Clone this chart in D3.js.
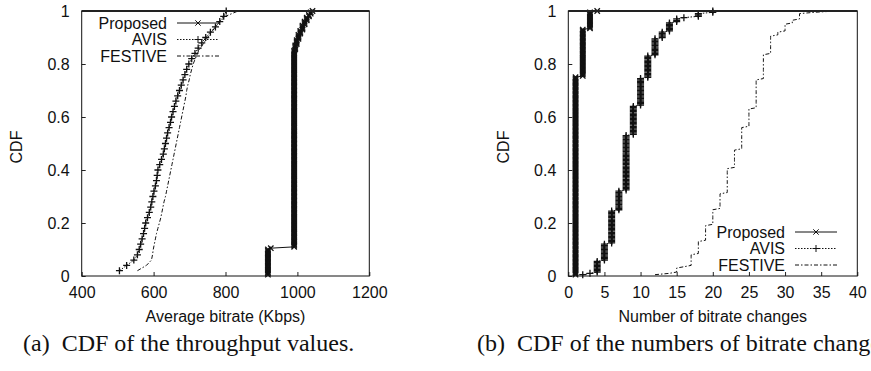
<!DOCTYPE html>
<html>
<head>
<meta charset="utf-8">
<script src="https://cdn.jsdelivr.net/npm/d3@7"></script>
<style>
  html, body { margin: 0; padding: 0; background: #fff; }
  svg { display: block; }
  .tick text, .lbl { font-family: "Liberation Sans", Arial, sans-serif; font-size: 16px; fill: #111; }
  .cap { font-family: "Liberation Serif", "Times New Roman", serif; font-size: 24px; fill: #111; }
</style>
</head>
<body>
<svg id="chart" width="871" height="371"></svg>
<script>
// Panel (a): average bitrate per run (Kbps). Proposed is given as value/count pairs.
const rateProposedVals = [918, 926, 991, 994, 998, 1003, 1008, 1014, 1020, 1026, 1032, 1037, 1042];
const rateProposedCounts = [20, 1, 149, 4, 4, 4, 3, 4, 3, 3, 2, 2, 1];
const rateAvis = [505, 525, 545, 555, 560, 564, 568, 572, 575, 578,
                  583, 588, 592, 595, 598, 601, 605, 608, 610, 612,
                  617, 622, 627, 630, 633, 636, 639, 643, 647, 650,
                  654, 658, 662, 667, 672, 677, 682, 687, 692, 698,
                  706, 715, 724, 734, 745, 758, 772, 784, 795, 802];
const rateFestive = [555, 580, 594, 597, 599, 602, 605, 608, 612, 616,
                     620, 623, 626, 629, 633, 636, 639, 642, 645, 648,
                     651, 654, 657, 660, 663, 666, 669, 672, 675, 678,
                     681, 684, 687, 690, 692, 695, 699, 702, 706, 710,
                     716, 722, 730, 740, 750, 761, 772, 785, 800, 835];

// Panel (b): number of bitrate changes per run, value/count pairs.
const chgProposedVals = [1, 2, 3, 4];
const chgProposedCounts = [150, 36, 13, 1];
const chgAvisVals = [2, 3, 4, 5, 6, 7, 8, 9, 10, 11, 12, 13, 14, 15, 16, 18, 20];
const chgAvisCounts = [1, 1, 9, 13, 25, 15, 42, 22, 21, 17, 13, 5, 7, 3, 1, 3, 2];
const chgFestiveVals = [12, 14, 15, 16, 17, 18, 19, 20, 21, 22, 23, 24, 25, 26, 27, 28, 29, 30, 31, 32, 34, 37];
const chgFestiveCounts = [1, 1, 4, 1, 9, 10, 12, 12, 12, 19, 14, 17, 14, 22, 19, 14, 3, 6, 3, 5, 1, 1];

const seriesNames = ['Proposed', 'AVIS', 'FESTIVE'];
const yTicks = [0, 0.2, 0.4, 0.6, 0.8, 1];
const rateTicks = [400, 600, 800, 1000, 1200];
const chgTicks = [0, 5, 10, 15, 20, 25, 30, 35, 40];

// gnuplot-ish look for each series
const styles = {
  Proposed: { dash: null, marker: 'x' },
  AVIS: { dash: '1.5,1.5', marker: '+' },
  FESTIVE: { dash: '4,2,1.5,2', marker: null }
};

function expand(vals, counts) {
  let out = [];
  vals.forEach((v, i) => { for (let k = 0; k < counts[i]; k++) out.push(v); });
  return out;
}

// Sorted samples -> empirical CDF points
function cdf(samples) {
  let s = samples.slice().sort((a, b) => a - b);
  return s.map((v, i) => [v, (i + 1) / s.length]);
}

const markerPath = {
  'x': 'M-2.7,-2.7L2.7,2.7M-2.7,2.7L2.7,-2.7',
  '+': 'M-3.5,0H3.5M0,-3.5V3.5'
};

const svg = d3.select('#chart');

function drawPanel(opt) {
  let x = d3.scaleLinear().domain(opt.xDomain).range([opt.left, opt.right]);
  let y = d3.scaleLinear().domain([0, 1]).range([276, 11]);
  let g = svg.append('g');

  g.append('g')
    .attr('transform', 'translate(0,276)')
    .call(d3.axisBottom(x).tickValues(opt.xTicks).tickSize(-4).tickPadding(11).tickFormat(d3.format('~g')))
    .call(a => a.select('.domain').remove())
    .call(a => a.selectAll('line').attr('stroke', '#222'));

  g.append('g')
    .attr('transform', `translate(${opt.left},0)`)
    .call(d3.axisLeft(y).tickValues(yTicks).tickSize(-4).tickPadding(12).tickFormat(d3.format('~g')))
    .call(a => a.select('.domain').remove())
    .call(a => a.selectAll('line').attr('stroke', '#222'));

  let line = d3.line().x(d => x(d[0])).y(d => y(d[1]));

  opt.series.forEach((samples, i) => {
    let name = seriesNames[i], st = styles[name];
    let pts = cdf(samples);
    g.append('path')
      .attr('d', line(pts))
      .attr('fill', 'none')
      .attr('stroke', '#111')
      .attr('stroke-width', 1)
      .attr('stroke-dasharray', st.dash);
    if (st.marker) {
      g.append('g').selectAll('path')
        .data(pts)
        .join('path')
        .attr('transform', d => `translate(${x(d[0])},${y(d[1])})`)
        .attr('d', markerPath[st.marker])
        .attr('stroke', '#111')
        .attr('stroke-width', 1.3)
        .attr('fill', 'none');
    }
  });

  // frame, top edge drawn heavier like the original
  g.append('rect')
    .attr('x', opt.left).attr('y', 11)
    .attr('width', opt.right - opt.left).attr('height', 265)
    .attr('fill', 'none').attr('stroke', '#111').attr('stroke-width', 1);
  g.append('line')
    .attr('x1', opt.left).attr('x2', opt.right).attr('y1', 11).attr('y2', 11)
    .attr('stroke', '#222').attr('stroke-width', 2);

  // legend
  seriesNames.forEach((name, i) => {
    let st = styles[name], ly = opt.legendY + i * 16.5;
    g.append('text').attr('class', 'lbl')
      .attr('x', opt.legendX).attr('y', ly).attr('dy', '0.35em')
      .attr('text-anchor', 'end').text(name);
    let lx0 = opt.legendX + 10, lx1 = opt.legendX + 52;
    g.append('line')
      .attr('x1', lx0).attr('x2', lx1).attr('y1', ly).attr('y2', ly)
      .attr('stroke', '#111').attr('stroke-dasharray', st.dash);
    if (st.marker) {
      g.append('path')
        .attr('transform', `translate(${(lx0 + lx1) / 2},${ly})`)
        .attr('d', markerPath[st.marker])
        .attr('stroke', '#111').attr('fill', 'none');
    }
  });

  g.append('text').attr('class', 'lbl')
    .attr('transform', `translate(${opt.ylabelX},147) rotate(-90)`)
    .attr('dy', '0.35em').attr('text-anchor', 'middle').text('CDF');

  g.append('text').attr('class', 'lbl')
    .attr('x', (opt.left + opt.right) / 2).attr('y', 322)
    .attr('text-anchor', 'middle').text(opt.xTitle);

  // caption (b) runs off the right edge in the original figure too
  g.append('text').attr('class', 'cap')
    .attr('x', opt.capX).attr('y', 351)
    .attr('xml:space', 'preserve')
    .text(opt.caption);
}

drawPanel({
  left: 81.7, right: 369.3, xDomain: [400, 1200], xTicks: rateTicks,
  series: [expand(rateProposedVals, rateProposedCounts), rateAvis, rateFestive],
  legendX: 167, legendY: 23, ylabelX: 16,
  xTitle: 'Average bitrate (Kbps)',
  capX: 23, caption: '(a)  CDF of the throughput values.'
});

drawPanel({
  left: 568.3, right: 857.3, xDomain: [0, 40], xTicks: chgTicks,
  series: [expand(chgProposedVals, chgProposedCounts), expand(chgAvisVals, chgAvisCounts), expand(chgFestiveVals, chgFestiveCounts)],
  legendX: 785, legendY: 232, ylabelX: 503,
  xTitle: 'Number of bitrate changes',
  capX: 477, caption: '(b)  CDF of the numbers of bitrate changes.'
});
</script>
</body>
</html>
